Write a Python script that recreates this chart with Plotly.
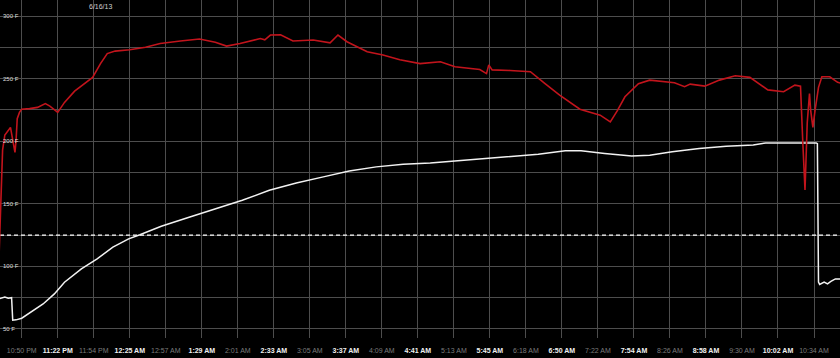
import plotly.graph_objects as go
from datetime import datetime, timedelta

# ---- data ----
pit_times = ["22:30", "22:33", "22:35", "22:38", "22:40", "22:42", "22:44", "22:45", "22:46", "22:48",
             "22:50", "22:57", "23:04", "23:11", "23:15", "23:22", "23:28", "23:37", "23:46", "23:53",
             "00:00", "00:06", "00:13", "00:26", "00:40", "00:53", "01:11", "01:28", "01:42", "01:52",
             "02:04", "02:22", "02:26", "02:31", "02:40", "02:51", "03:09", "03:24", "03:31", "03:39",
             "03:57", "04:11", "04:26", "04:44", "05:02", "05:15", "05:37", "05:43", "05:45", "05:48",
             "06:04", "06:22", "06:35", "06:42", "06:48", "07:06", "07:24", "07:33", "07:39", "07:46",
             "07:58", "08:08", "08:30", "08:39", "08:44", "08:57", "09:10", "09:24", "09:37", "09:53",
             "10:07", "10:17", "10:22", "10:24", "10:26", "10:28", "10:30", "10:31", "10:33", "10:35",
             "10:38", "10:41", "10:48", "10:55", "10:59"]
pit_temps = [112, 193, 205, 209, 211, 201, 191, 201, 218, 223,
             225.6, 226, 227, 230, 228, 223, 231, 240, 246, 251,
             262, 270, 272, 273, 275, 278, 280, 281.6, 279, 276,
             278, 282, 281, 284.8, 285, 280, 280.8, 278.6, 284.8, 279.5,
             271.5, 268.8, 265, 262, 263.5, 259.5, 257.3, 254, 261, 257,
             256.5, 255.5, 246, 241, 236.8, 225.6, 220.8, 215.5, 224, 235.5,
             246, 248.8, 246.7, 243.5, 245.6, 244, 248.8, 252.3, 251, 241,
             239.5, 244.8, 244, 200, 161, 215, 238, 225, 211, 225,
             243, 251.5, 251.5, 247, 246]

meat_times = ["22:30", "22:35", "22:38", "22:41", "22:42", "22:45", "22:50", "22:59", "23:09", "23:19",
              "23:28", "23:43", "23:57", "00:11", "00:25", "00:35", "00:54", "01:18", "01:42", "02:06",
              "02:30", "02:54", "03:18", "03:41", "04:05", "04:29", "04:53", "05:17", "05:41", "06:05",
              "06:29", "06:53", "07:07", "07:28", "07:52", "08:08", "08:28", "08:52", "09:16", "09:40",
              "09:51", "10:36", "10:37", "10:38", "10:39", "10:43", "10:46", "10:49", "10:53", "10:59"]
meat_temps = [74.2, 75.5, 74.5, 75, 57, 57.3, 58.6, 63.7, 70, 78,
              87.4, 98, 106, 115.4, 122, 125.3, 132, 139, 146, 152.8,
              160.8, 166.6, 171.5, 176.2, 179.5, 181.6, 182.6, 184.3, 186, 188,
              189.6, 192.3, 192.3, 190.2, 188.2, 188.8, 191.5, 194.1, 196, 197,
              198.6, 198.6, 198, 87.4, 85.6, 87.5, 86, 88, 90, 90]

target_temp = 125

x_tick_labels = ["10:50 PM", "11:22 PM", "11:54 PM", "12:25 AM", "12:57 AM", "1:29 AM", "2:01 AM",
                 "2:33 AM", "3:05 AM", "3:37 AM", "4:09 AM", "4:41 AM", "5:13 AM", "5:45 AM",
                 "6:18 AM", "6:50 AM", "7:22 AM", "7:54 AM", "8:26 AM", "8:58 AM", "9:30 AM",
                 "10:02 AM", "10:34 AM"]
y_tick_values = [50, 100, 150, 200, 250, 300]
y_tick_labels = ["50 F", "100 F", "150 F", "200 F", "250 F", "300 F"]
date_label = "6/16/13"


def to_dt(hhmm):
    h, m = map(int, hhmm.split(":"))
    day = 15 if h >= 12 else 16
    return datetime(2013, 6, day, h, m)


pit_x = [to_dt(t) for t in pit_times]
meat_x = [to_dt(t) for t in meat_times]

tick_start = datetime(2013, 6, 15, 22, 50)
tickvals = [tick_start + timedelta(minutes=32 * i) for i in range(len(x_tick_labels))]
ticktext = []
for i, lab in enumerate(x_tick_labels):
    if i % 2 == 0:
        ticktext.append(f"<span style='color:#7a7a7a'>{lab}</span>")
    else:
        ticktext.append(f"<b><span style='color:#f0f0f0'>{lab}</span></b>")

x_start = datetime(2013, 6, 15, 22, 30, 42)
x_end = datetime(2013, 6, 16, 10, 57, 6)
grid = "#4d4d4d"

fig = go.Figure()
fig.add_trace(go.Scatter(x=[x_start, x_end], y=[target_temp, target_temp], mode="lines",
                         line=dict(color="white", width=1.3, dash="4px,3px"),
                         hoverinfo="skip", showlegend=False))
fig.add_trace(go.Scatter(x=meat_x, y=meat_temps, mode="lines",
                         line=dict(color="#f2f2f2", width=1.5), showlegend=False))
fig.add_trace(go.Scatter(x=pit_x, y=pit_temps, mode="lines",
                         line=dict(color="#c2141c", width=1.6), showlegend=False))

fig.add_annotation(x=datetime(2013, 6, 16, 0, 0), y=1, xref="x", yref="paper",
                   yanchor="top", yshift=-1, text=date_label, showarrow=False,
                   font=dict(size=7, color="#d0d0d0", family="Liberation Sans, Arial"))

fig.update_layout(
    width=840, height=358,
    margin=dict(l=0, r=0, t=0, b=20),
    paper_bgcolor="black", plot_bgcolor="black",
    font=dict(family="Liberation Sans, Arial", size=7, color="#dddddd"),
    xaxis=dict(range=[x_start, x_end], tickvals=tickvals, ticktext=ticktext,
               showgrid=True, gridcolor=grid, gridwidth=1, zeroline=False,
               showline=False, ticks="", tickfont=dict(size=7), ticklabelstandoff=7),
    yaxis=dict(range=[42.8, 312.8], tickvals=y_tick_values, ticktext=y_tick_labels,
               ticklabelposition="inside", showgrid=True, gridcolor=grid, gridwidth=1,
               zeroline=False, showline=False, ticks="",
               tickfont=dict(size=6, color="#dddddd"),
               minor=dict(tickvals=[75, 125, 175, 225, 275], showgrid=True,
                          gridcolor=grid, gridwidth=1)),
)

fig.write_html("out.html")
